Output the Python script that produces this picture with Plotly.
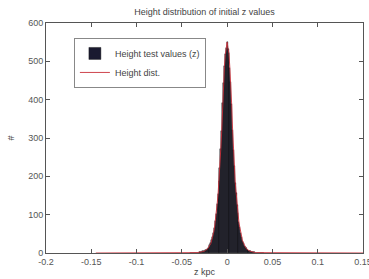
import plotly.graph_objects as go

# bin centres (kpc) and histogram counts
bin_width = 0.001
z_centers = [round(i * 0.001, 3) for i in range(-40, 41)]
counts = [0, 0, 0, 1, 0, 1, 1, 1, 1, 2,
          2, 3, 3, 4, 4, 5, 7, 8, 10, 13,
          16, 21, 25, 34, 41, 53, 65, 83, 102, 129,
          154, 187, 223, 272, 318, 392, 443, 487, 518, 536,
          550,
          533, 521, 482, 447, 388, 322, 268, 227, 183, 156,
          126, 105, 80, 67, 51, 43, 32, 27, 19, 16,
          12, 9, 8, 6, 5, 4, 3, 2, 2, 2,
          1, 1, 1, 0, 1, 0, 0, 0, 0, 0]

# fitted distribution curve
dist_z = [-0.145] + z_centers + [0.15]
dist_y = [0] + counts + [0]

x_ticks = [-0.2, -0.15, -0.1, -0.05, 0, 0.05, 0.1, 0.15]
x_ticktext = ["-0.2", "-0.15", "-0.1", "-0.05", "0", "0.05", "0.1", "0.15"]
y_ticks = [0, 100, 200, 300, 400, 500, 600]

FONT = "Liberation Sans, Arial"

fig = go.Figure()
fig.add_trace(go.Bar(
    x=z_centers, y=counts, width=bin_width,
    name="Height test values (z)",
    marker=dict(color="#1a1a30", line=dict(color="#111111", width=0.4)),
))
fig.add_trace(go.Scatter(
    x=dist_z, y=dist_y, mode="lines", name="Height dist.",
    line=dict(color="#c8303a", width=0.9),
))

axis_common = dict(
    showgrid=False, zeroline=False, showline=True, linecolor="#555555", linewidth=1,
    mirror="ticks", ticks="inside", ticklen=4, tickcolor="#555555",
    tickfont=dict(family=FONT, size=9, color="#555555"),
    automargin=False,
)

fig.update_layout(
    width=369, height=279,
    margin=dict(l=46, r=6, t=23, b=26),
    paper_bgcolor="white", plot_bgcolor="white",
    bargap=0,
    showlegend=True,
    title=dict(text="Height distribution of initial z values", xref="paper", x=0.5,
               xanchor="center", y=0.97, yanchor="top",
               font=dict(family=FONT, size=9, color="#444444")),
    legend=dict(x=0.088, y=0.935, xanchor="left", yanchor="top",
                bgcolor="white", bordercolor="#888888", borderwidth=1,
                font=dict(family=FONT, size=9, color="#444444"),
                tracegroupgap=0, itemwidth=30),
    xaxis=dict(range=[-0.2, 0.15], tickvals=x_ticks, ticktext=x_ticktext,
               ticklabeloverflow="allow",
               title=dict(text="z kpc", standoff=2,
                          font=dict(family=FONT, size=9, color="#444444")),
               **axis_common),
    yaxis=dict(range=[0, 600], tickvals=y_ticks,
               title=dict(text="#", standoff=12,
                          font=dict(family=FONT, size=9, color="#444444")),
               **axis_common),
)

fig.write_html("out.html", config={"displayModeBar": False},
               post_script="document.body.style.margin='0';")
